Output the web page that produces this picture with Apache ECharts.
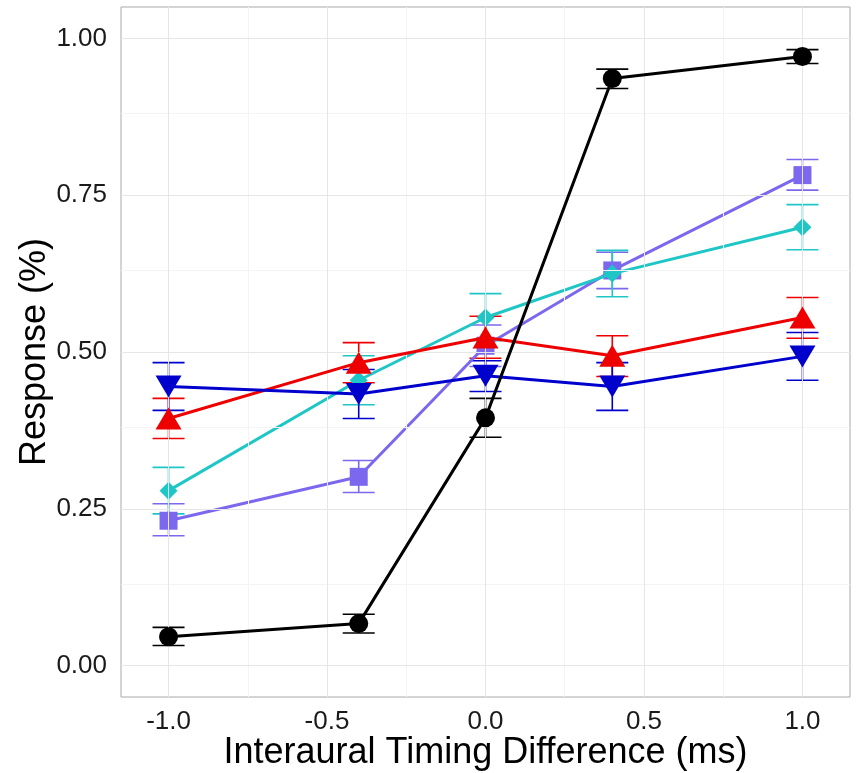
<!DOCTYPE html>
<html>
<head>
<meta charset="utf-8">
<script src="https://cdn.jsdelivr.net/npm/echarts@6/dist/echarts.min.js"></script>
<style>
  html, body { margin: 0; padding: 0; background: #ffffff; }
  #chart { width: 857px; height: 773px; }
</style>
</head>
<body>
<div id="chart"></div>
<script>
// Interaural timing difference conditions (ms)
const itd = [-1.0, -0.4, 0.0, 0.4, 1.0];

// Mean response and error-bar bounds for each group
const blackMean = [0.046, 0.067, 0.395, 0.936, 0.971];
const blackLow  = [0.032, 0.052, 0.364, 0.920, 0.960];
const blackHigh = [0.061, 0.082, 0.426, 0.951, 0.982];

const blueMean = [0.445, 0.433, 0.462, 0.445, 0.493];
const blueLow  = [0.407, 0.394, 0.437, 0.407, 0.455];
const blueHigh = [0.483, 0.472, 0.486, 0.483, 0.531];

const redMean = [0.394, 0.483, 0.523, 0.494, 0.555];
const redLow  = [0.362, 0.451, 0.490, 0.461, 0.522];
const redHigh = [0.426, 0.515, 0.557, 0.526, 0.587];

const cyanMean = [0.279, 0.455, 0.555, 0.625, 0.699];
const cyanLow  = [0.242, 0.416, 0.518, 0.588, 0.663];
const cyanHigh = [0.316, 0.494, 0.593, 0.662, 0.735];

const purpleMean = [0.231, 0.301, 0.510, 0.630, 0.782];
const purpleLow  = [0.207, 0.276, 0.477, 0.601, 0.758];
const purpleHigh = [0.258, 0.327, 0.543, 0.659, 0.807];

// Axis ticks and grid lines
const xTicks = [-1.0, -0.5, 0.0, 0.5, 1.0];
const xMinor = [-0.75, -0.25, 0.25, 0.75];
const yTicks = [0.00, 0.25, 0.50, 0.75, 1.00];
const yMinor = [0.125, 0.375, 0.625, 0.875];

const groups = [
  { name: 'purple', color: '#7B68EE', mean: purpleMean, low: purpleLow, high: purpleHigh, symbol: 'rect', size: 18, rotate: 0 },
  { name: 'cyan',   color: '#1FC6C6', mean: cyanMean,   low: cyanLow,   high: cyanHigh,   symbol: 'diamond', size: [18, 18], rotate: 0 },
  { name: 'red',    color: '#EE0000', mean: redMean,    low: redLow,    high: redHigh,    symbol: 'triangle', size: [26, 22], rotate: 0 },
  { name: 'blue',   color: '#0000CD', mean: blueMean,   low: blueLow,   high: blueHigh,   symbol: 'triangle', size: [26, 22], rotate: 180 },
  { name: 'black',  color: '#000000', mean: blackMean,  low: blackLow,  high: blackHigh,  symbol: 'circle', size: 19, rotate: 0 }
];

const FONT = '"Liberation Sans", Arial, Helvetica, sans-serif';

function errorBarRender(color) {
  return function (params, api) {
    const x = api.value(0);
    const top = api.coord([x, api.value(2)]);
    const bot = api.coord([x, api.value(1)]);
    const hw = 16;
    const style = { stroke: color, lineWidth: 1.6 };
    return {
      type: 'group',
      children: [
        { type: 'line', shape: { x1: top[0], y1: top[1], x2: bot[0], y2: bot[1] }, style: style },
        { type: 'line', shape: { x1: top[0] - hw, y1: top[1], x2: top[0] + hw, y2: top[1] }, style: style },
        { type: 'line', shape: { x1: bot[0] - hw, y1: bot[1], x2: bot[0] + hw, y2: bot[1] }, style: style }
      ]
    };
  };
}

const series = [];

// Panel grid lines
series.push({
  type: 'line',
  data: [],
  silent: true,
  z: 0,
  markLine: {
    silent: true,
    symbol: 'none',
    label: { show: false },
    animation: false,
    data: []
      .concat(xMinor.map(v => ({ xAxis: v, lineStyle: { color: '#f4f4f4', width: 1, type: 'solid' } })))
      .concat(yMinor.map(v => ({ yAxis: v, lineStyle: { color: '#f4f4f4', width: 1, type: 'solid' } })))
      .concat(xTicks.map(v => ({ xAxis: v, lineStyle: { color: '#e6e6e6', width: 1, type: 'solid' } })))
      .concat(yTicks.map(v => ({ yAxis: v, lineStyle: { color: '#e6e6e6', width: 1, type: 'solid' } })))
  }
});

// Error bars
groups.forEach(g => {
  series.push({
    type: 'custom',
    name: g.name + '-err',
    z: 2,
    renderItem: errorBarRender(g.color),
    data: itd.map((x, i) => [x, g.low[i], g.high[i]]),
    animation: false
  });
});

// Lines with markers
groups.forEach((g, k) => {
  series.push({
    type: 'line',
    name: g.name,
    z: 3 + k,
    data: itd.map((x, i) => [x, g.mean[i]]),
    symbol: g.symbol,
    symbolSize: g.size,
    symbolRotate: g.rotate,
    showAllSymbol: true,
    lineStyle: { color: g.color, width: 3 },
    itemStyle: { color: g.color, borderWidth: 0 },
    animation: false
  });
});

const chart = echarts.init(document.getElementById('chart'), null, { renderer: 'canvas' });
chart.setOption({
  backgroundColor: '#ffffff',
  animation: false,
  grid: {
    left: 121, right: 7, top: 7, bottom: 76,
    outerBoundsMode: 'none',
    containLabel: false,
    show: true, borderColor: '#a8a8a8', borderWidth: 1, backgroundColor: 'transparent'
  },
  xAxis: {
    type: 'value',
    min: -1.15, max: 1.15,
    axisLine: { show: false },
    splitLine: { show: false },
    axisTick: { show: true, customValues: xTicks, length: 6, lineStyle: { color: '#8a8a8a', width: 1 } },
    axisLabel: {
      customValues: xTicks,
      formatter: v => v.toFixed(1),
      color: '#1a1a1a', fontSize: 26, fontFamily: FONT, margin: 12
    },
    name: 'Interaural Timing Difference (ms)',
    nameLocation: 'middle',
    nameMoveOverlap: false,
    nameGap: 38,
    nameTextStyle: { color: '#000000', fontSize: 36, fontFamily: FONT }
  },
  yAxis: {
    type: 'value',
    min: -0.05, max: 1.05,
    axisLine: { show: false },
    splitLine: { show: false },
    axisTick: { show: true, customValues: yTicks, length: 6, lineStyle: { color: '#8a8a8a', width: 1 } },
    axisLabel: {
      customValues: yTicks,
      formatter: v => v.toFixed(2),
      color: '#1a1a1a', fontSize: 26, fontFamily: FONT, margin: 14
    },
    name: 'Response (%)',
    nameLocation: 'middle',
    nameMoveOverlap: false,
    nameGap: 68,
    nameTextStyle: { color: '#000000', fontSize: 36, fontFamily: FONT }
  },
  series: series
});
</script>
</body>
</html>
